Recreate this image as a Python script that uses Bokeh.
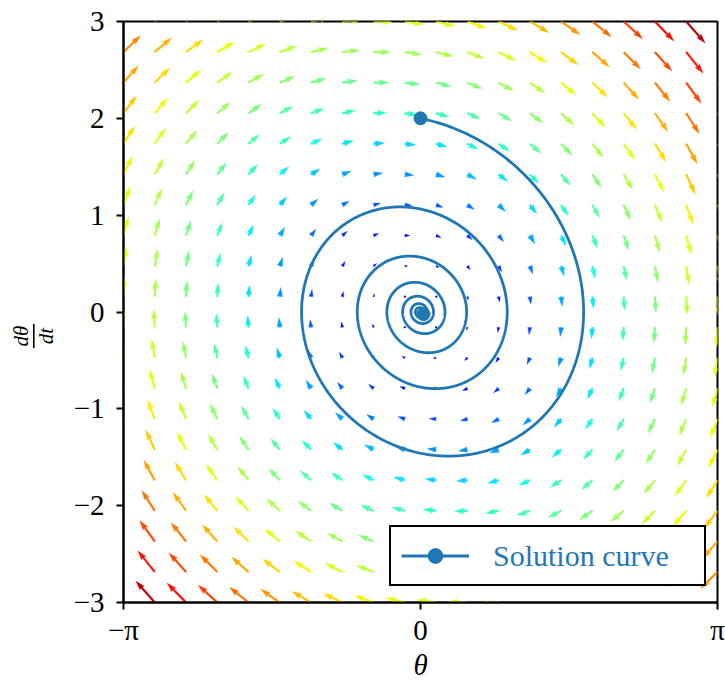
import math
import numpy as np
from bokeh.plotting import figure
from bokeh.layouts import row
from bokeh.models import Range1d, FixedTicker, Legend, LegendItem
from bokeh.core.properties import value
from bokeh.embed import file_html
from bokeh.resources import INLINE

# ---------------- data ----------------
theta_limits = [-math.pi, math.pi]
omega_limits = [-3.0, 3.0]
grid_points = 20                 # arrows per row and per column
damping = 0.2                    # θ'' = -damping·θ' - stiffness·θ
stiffness = 1.0
initial_state = [0.0, 2.0]       # (θ, dθ/dt) at t = 0
t_end = 40.0
x_tick_values = [-math.pi, 0.0, math.pi]
x_tick_labels = ["−π", "0", "π"]
y_tick_values = [-3, -2, -1, 0, 1, 2, 3]
y_tick_labels = ["−3", "−2", "−1", "0", "1", "2", "3"]
x_title = "θ"
y_title_num, y_title_den = "dθ", "dt"
curve_label = "Solution curve"
curve_color = "#1f77b4"

# ---------------- layout ----------------
W, H = 725, 682
LAB_W = 63                                  # strip holding the rotated y title
B_LEFT, B_RIGHT, B_TOP, B_BOTTOM = 123, 8, 21, 80
FW, FH = W - B_LEFT - B_RIGHT, H - B_TOP - B_BOTTOM
SX = FW / (theta_limits[1] - theta_limits[0])   # px per data unit
SY = FH / (omega_limits[1] - omega_limits[0])
FONT = "Liberation Serif"
FS = "29px"


def field(th, om):
    return om, -damping * om - stiffness * th


# vector field on grid
th_g, om_g = np.meshgrid(np.linspace(*theta_limits, grid_points),
                         np.linspace(*omega_limits, grid_points))
th_g, om_g = th_g.ravel(), om_g.ravel()
U, V = field(th_g, om_g)
MAG = np.hypot(U, V)


def jet(t):
    t = np.clip(t, 0, 1)
    r = np.interp(t, [0, 0.35, 0.66, 0.89, 1], [0, 0, 1, 1, 0.5])
    g = np.interp(t, [0, 0.125, 0.375, 0.64, 0.91, 1], [0, 0, 1, 1, 0, 0])
    b = np.interp(t, [0, 0.11, 0.34, 0.65, 1], [0.5, 1, 1, 0, 0])
    return ["#%02x%02x%02x" % (int(round(a * 255)), int(round(c * 255)), int(round(d * 255)))
            for a, c, d in zip(r, g, b)]


colors = jet((MAG - MAG.min()) / (MAG.max() - MAG.min()))

# matplotlib-like quiver arrow polygons (computed in pixel space)
PX_PER_UNIT = 6.3
SHAFT = 1.9
HW, HL, HAL = 3.0, 5.0, 4.5
xs_list, ys_list = [], []
for th, om, u, v, m in zip(th_g, om_g, U, V, MAG):
    L = PX_PER_UNIT * m / SHAFT
    if L < 1.0:
        ang_h = np.arange(8) * np.pi / 3
        X = 0.5 * np.cos(ang_h)
        Y = 0.5 * np.sin(ang_h)
    elif L < HL:
        s = L / HL
        X = s * np.array([0, HL - HAL, 0, HL, 0, HL - HAL, 0, 0])
        Y = s * np.array([0.5, 0.5, HW / 2, 0, -HW / 2, -0.5, -0.5, 0.5])
    else:
        X = np.array([0, L - HAL, L - HL, L, L - HL, L - HAL, 0, 0])
        Y = np.array([0.5, 0.5, HW / 2, 0, -HW / 2, -0.5, -0.5, 0.5])
    a = math.atan2(v, u)
    ca, sa = math.cos(a), math.sin(a)
    px = (X * ca - Y * sa) * SHAFT
    py = (X * sa + Y * ca) * SHAFT
    xs_list.append(list(th + px / SX))
    ys_list.append(list(om + py / SY))

# solution curve (RK4)
dt = 0.01
n = int(t_end / dt)
sol = np.zeros((n + 1, 2))
sol[0] = initial_state
for i in range(n):
    s = sol[i]
    k1 = np.array(field(*s))
    k2 = np.array(field(*(s + 0.5 * dt * k1)))
    k3 = np.array(field(*(s + 0.5 * dt * k2)))
    k4 = np.array(field(*(s + dt * k3)))
    sol[i + 1] = s + dt / 6 * (k1 + 2 * k2 + 2 * k3 + k4)

# ---------------- main figure ----------------
p = figure(frame_width=FW, frame_height=FH,
           x_range=Range1d(*theta_limits), y_range=Range1d(*omega_limits),
           output_backend="svg", toolbar_location=None,
           min_border_left=B_LEFT - LAB_W, min_border_right=B_RIGHT,
           min_border_top=B_TOP, min_border_bottom=B_BOTTOM)
p.xgrid.visible = False
p.ygrid.visible = False
p.outline_line_color = "black"
p.outline_line_width = 2
p.outline_line_alpha = 1
p.background_fill_color = "white"
p.border_fill_color = "white"

p.patches(xs_list, ys_list, fill_color=colors, line_color=colors, line_width=0.3)

r_line = p.line(sol[:, 0], sol[:, 1], line_color=curve_color, line_width=2.8)
r_dots = p.scatter([sol[0, 0], sol[-1, 0]], [sol[0, 1], sol[-1, 1]], size=13,
                   fill_color=curve_color, line_color=curve_color)

for ax, vals, labs, standoff in ((p.xaxis[0], x_tick_values, x_tick_labels, 4),
                                 (p.yaxis[0], y_tick_values, y_tick_labels, 12)):
    ax.ticker = FixedTicker(ticks=vals, minor_ticks=[])
    ax.major_label_overrides = {float(v): l for v, l in zip(vals, labs)}
    ax.major_tick_out = 7
    ax.major_tick_in = 0
    ax.major_tick_line_width = 2
    ax.major_tick_line_color = "black"
    ax.axis_line_width = 2
    ax.axis_line_color = "black"
    ax.major_label_text_font = FONT
    ax.major_label_text_font_size = FS
    ax.major_label_text_color = "black"
    ax.major_label_standoff = standoff

p.xaxis.axis_label = x_title
p.xaxis.axis_label_text_font = FONT
p.xaxis.axis_label_text_font_style = "italic"
p.xaxis.axis_label_text_font_size = "29px"
p.xaxis.axis_label_text_color = "black"
p.xaxis.axis_label_standoff = 0

legend = Legend(items=[LegendItem(label=curve_label, renderers=[r_line, r_dots])],
                location=(266, 16), orientation="vertical")
legend.label_text_font = FONT
legend.label_text_font_size = "30px"
legend.label_text_color = curve_color
legend.border_line_color = "black"
legend.border_line_width = 2
legend.border_line_alpha = 1
legend.background_fill_color = "white"
legend.background_fill_alpha = 1
legend.padding = 10
legend.margin = 0
legend.spacing = 0
legend.glyph_width = 68
legend.glyph_height = 37
legend.label_height = 37
legend.label_width = 201
legend.label_standoff = 24
p.add_layout(legend, "center")

# ---------------- strip with the rotated fraction dθ/dt ----------------
q = figure(frame_width=LAB_W, frame_height=FH, title=None,
           x_range=Range1d(0, LAB_W), y_range=p.y_range,
           output_backend="svg", toolbar_location=None,
           x_axis_location=None, y_axis_location=None,
           min_border_left=0, min_border_right=0,
           min_border_top=B_TOP, min_border_bottom=B_BOTTOM)
q.grid.visible = False
q.outline_line_color = None
q.background_fill_color = "white"
q.border_fill_color = "white"
y_mid = -24 / SY            # compensates the strip's vertical offset in the row
half_bar = 12 / SY
q.text(x=[20.7, 45.7], y=[y_mid, y_mid], text=[y_title_num, y_title_den], angle=math.pi / 2,
       text_align="center", text_baseline="middle", text_font=value(FONT),
       text_font_style="italic", text_font_size="21px", text_color="black")
q.segment(x0=[33.3], y0=[y_mid - half_bar], x1=[33.3], y1=[y_mid + half_bar],
          line_color="black", line_width=1.6)

open("out.html", "w").write(file_html(row(q, p, spacing=0), INLINE))
